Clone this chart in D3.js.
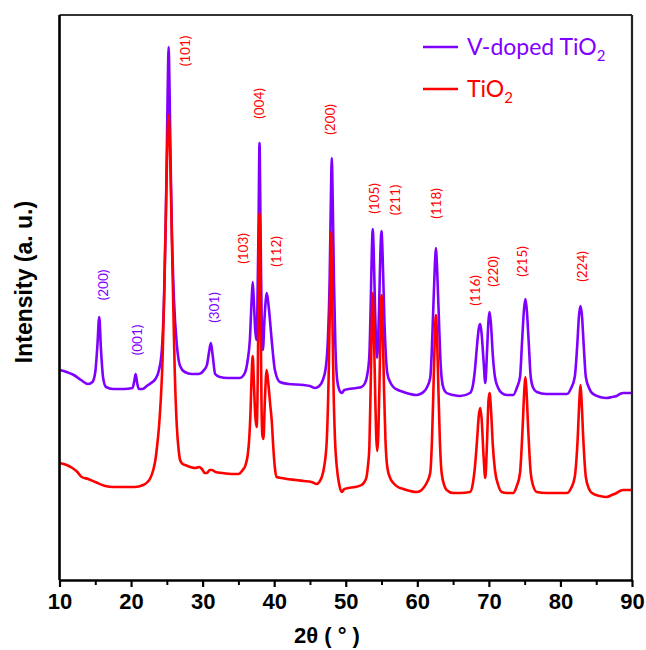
<!DOCTYPE html>
<html>
<head>
<meta charset="utf-8">
<script src="https://cdn.jsdelivr.net/npm/d3@7"></script>
<style>
  html, body { margin: 0; padding: 0; background: #fff; }
  svg { display: block; }
</style>
</head>
<body>
<svg id="chart" width="646" height="650"></svg>
<script>
// ---------- DATA ----------
const xTicks = [10, 20, 30, 40, 50, 60, 70, 80, 90];
const xMinorTicks = [15, 25, 35, 45, 55, 65, 75, 85];

const seriesNames = ["V-doped TiO", "TiO"];

const vdopedTheta = [10.0,11.0,12.0,13.0,14.0,14.6,15.0,15.3,15.55,15.8,16.1,16.5,17.5,19.0,20.2,20.45,20.65,20.85,21.1,21.6,22.2,22.8,23.4,23.9,24.3,24.6,24.85,25.0,25.12,25.25,25.38,25.5,25.7,26.0,26.4,26.85,27.5,28.5,29.4,30.2,30.6,30.9,31.15,31.4,31.75,32.4,33.5,35.2,35.9,36.3,36.6,36.85,37.0,37.15,37.35,37.5,37.65,37.82,37.95,38.08,38.25,38.42,38.65,38.97,39.25,39.65,40.1,40.8,42.0,44.1,45.0,45.7,46.3,46.8,47.2,47.5,47.75,47.92,48.05,48.18,48.35,48.55,48.8,49.1,49.45,49.8,50.4,51.5,52.2,52.7,53.0,53.3,53.5,53.65,53.77,53.9,54.1,54.38,54.65,54.85,55.0,55.15,55.4,55.8,56.2,56.65,57.3,58.05,59.0,59.9,60.4,60.85,61.3,61.8,62.0,62.2,62.35,62.5,62.6,62.7,62.85,63.0,63.2,63.4,63.7,64.1,65.0,66.0,67.36,67.75,68.05,68.35,68.6,68.8,69.0,69.25,69.5,69.75,69.95,70.1,70.3,70.55,70.85,71.3,71.8,72.5,73.4,73.9,74.35,74.65,74.9,75.1,75.3,75.55,75.85,76.2,76.7,78.0,80.9,81.5,82.0,82.35,82.6,82.8,83.0,83.25,83.55,84.0,84.4,85.5,86.45,87.2,87.85,88.3,88.8,90.0];
const vdopedIntensity = [210,208,205,200,196,198,208,235,263,230,202,193,191,191,192,199,206,197,191,191,194,197,201,210,230,280,360,430,490,533,490,430,350,280,235,214,208,206,206,210,215,228,237,225,206,203,202,202,207,220,240,280,298,280,250,240,270,360,437,360,260,230,262,287,272,240,210,198,196,195,194,192,194,200,212,240,300,380,422,380,300,235,200,190,187,190,191,192,193,197,205,225,280,330,351,330,270,222,270,330,349,325,260,207,198,193,190,188,186,185,186,188,192,202,225,265,295,322,332,322,295,265,225,202,191,187,185,184,187,194,210,235,252,256,245,220,197,230,260,268,255,225,203,192,187,185,185,192,203,240,270,281,270,240,203,192,188,186,186,192,203,235,265,274,265,235,203,192,187,183,182,183,184,186,187,187];

const tio2Theta = [10.0,11.0,11.8,12.5,13.1,14.0,15.0,16.4,17.5,19.2,20.5,21.7,22.3,22.7,23.1,23.4,23.7,23.9,24.15,24.4,24.65,24.85,25.05,25.25,25.45,25.65,25.85,26.1,26.4,26.65,26.85,27.2,27.55,28.3,29.0,29.5,29.9,30.3,30.6,31.0,31.3,31.8,32.7,34.0,35.0,35.6,36.0,36.3,36.5,36.7,36.85,37.0,37.15,37.35,37.55,37.7,37.82,37.95,38.08,38.22,38.35,38.5,38.7,38.95,39.2,39.45,39.65,39.9,40.1,40.35,41.0,41.75,43.0,44.1,45.2,45.95,46.3,46.65,47.0,47.35,47.6,47.8,47.95,48.1,48.3,48.5,48.75,49.1,49.45,49.8,50.4,51.3,52.2,52.6,52.9,53.1,53.3,53.5,53.65,53.77,53.9,54.1,54.25,54.4,54.55,54.75,54.9,55.0,55.12,55.35,55.55,55.8,56.2,56.65,57.3,58.05,59.0,59.9,60.4,60.85,61.3,61.8,62.05,62.25,62.45,62.6,62.75,62.95,63.15,63.4,63.8,64.1,65.0,65.96,67.36,67.75,68.05,68.35,68.6,68.8,69.0,69.25,69.5,69.75,69.95,70.1,70.3,70.55,70.85,71.3,71.8,72.5,73.4,73.9,74.35,74.7,74.95,75.1,75.25,75.5,75.85,76.2,76.7,78.0,80.9,81.5,82.0,82.4,82.65,82.8,82.95,83.2,83.55,84.0,84.4,85.5,86.45,87.2,87.85,88.3,88.8,90.0];
const tio2Intensity = [117,115,112,108,103,101,98,94,93,93,93,95,98,102,110,120,138,153,180,220,290,360,430,465,430,360,290,210,153,130,120,116,115,113,112,113,111,107,107,110,110,108,107,106,106,110,115,125,140,170,205,224,200,165,153,200,290,367,290,180,145,141,180,210,195,175,160,130,112,103,102,101,100,99,98,96,98,103,114,140,200,280,348,280,190,140,113,95,88,91,92,93,95,98,103,114,133,200,260,287,260,190,145,129,145,210,265,285,265,190,140,113,102,97,93,91,89,88,89,92,97,107,140,190,245,265,245,190,140,107,94,90,87,87,88,96,113,140,165,172,160,125,102,140,180,187,170,135,110,95,88,87,87,94,107,150,190,203,190,150,107,94,88,87,87,92,103,140,180,195,180,140,103,91,87,84,83,85,87,89,90,90];

// Miller-index annotations: text, 2θ position, intensity level, series it is coloured by
const labelText   = ["(200)","(001)","(301)","(101)","(103)","(004)","(112)","(200)","(105)","(211)","(118)","(116)","(220)","(215)","(224)"];
const labelTheta  = [16.03, 20.85, 31.6, 27.56, 35.59, 37.89, 40.27, 47.8, 53.88, 56.82, 62.68, 68.06, 70.64, 74.69, 83.07];
const labelLevel  = [295, 240, 272.5, 529, 331.5, 476.5, 328.5, 460.5, 381.5, 380, 376.5, 289.5, 308.5, 318.5, 313.5];
const labelSeries = [0, 0, 0, 1, 1, 1, 1, 1, 1, 1, 1, 1, 1, 1, 1];

// ---------- LAYOUT / STYLE ----------
const colors = ["#7f00ff", "#ff0000"];
const plot = { left: 59.5, right: 632, top: 15, bottom: 580 };

const svg = d3.select("#chart");
const x = d3.scaleLinear().domain([10, 90]).range([plot.left, plot.right]);
const y = d3.scaleLinear().domain([0, 565]).range([plot.bottom, plot.top]);

// Curves
const line = d3.line()
  .x(d => x(d[0]))
  .y(d => y(d[1]))
  .curve(d3.curveMonotoneX);

const vData = vdopedTheta.map((t, i) => [t, vdopedIntensity[i]]);
const rData = tio2Theta.map((t, i) => [t, tio2Intensity[i]]);

svg.append("clipPath").attr("id", "clip")
  .append("rect").attr("x", plot.left).attr("y", plot.top)
  .attr("width", plot.right - plot.left).attr("height", plot.bottom - plot.top);

const g = svg.append("g").attr("clip-path", "url(#clip)");
[vData, rData].forEach((data, i) => {
  g.append("path")
    .datum(data)
    .attr("d", line)
    .attr("fill", "none")
    .attr("stroke", colors[i])
    .attr("stroke-width", 2.6)
    .attr("stroke-linejoin", "round");
});

// Frame (top and right)
svg.append("line").attr("x1", plot.left).attr("x2", plot.right)
  .attr("y1", plot.top).attr("y2", plot.top)
  .attr("stroke", "#333").attr("stroke-width", 2);
svg.append("line").attr("x1", plot.right).attr("x2", plot.right)
  .attr("y1", plot.top).attr("y2", plot.bottom)
  .attr("stroke", "#222").attr("stroke-width", 2.2);
// Left axis line (no ticks)
svg.append("line").attr("x1", plot.left).attr("x2", plot.left)
  .attr("y1", plot.top).attr("y2", plot.bottom)
  .attr("stroke", "#000").attr("stroke-width", 2.6);

// Bottom axis
const xAxis = d3.axisBottom(x).tickValues(xTicks).tickSize(7).tickSizeOuter(0).tickPadding(6);
const xa = svg.append("g").attr("transform", `translate(0,${plot.bottom})`).call(xAxis);
xa.select(".domain").attr("stroke", "#000").attr("stroke-width", 2.6);
xa.selectAll(".tick line").attr("stroke", "#000").attr("stroke-width", 2.2);
xa.selectAll(".tick text")
  .attr("font-family", "'Liberation Sans', Arial, sans-serif")
  .attr("font-weight", "bold").attr("font-size", 22).attr("fill", "#000");
const xMinor = d3.axisBottom(x).tickValues(xMinorTicks).tickSize(5).tickFormat("");
const xm = svg.append("g").attr("transform", `translate(0,${plot.bottom})`).call(xMinor);
xm.select(".domain").remove();
xm.selectAll(".tick line").attr("stroke", "#000").attr("stroke-width", 2);

// Axis titles
svg.append("text")
  .attr("x", 327).attr("y", 643)
  .attr("text-anchor", "middle")
  .attr("font-family", "'Liberation Sans', Arial, sans-serif")
  .attr("font-weight", "bold").attr("font-size", 22)
  .text("2θ ( ° )");

svg.append("text")
  .attr("transform", "translate(32,282) rotate(-90)")
  .attr("text-anchor", "middle")
  .attr("font-family", "'Liberation Sans', Arial, sans-serif")
  .attr("font-weight", "bold").attr("font-size", 23)
  .text("Intensity (a. u.)");

// Peak labels
svg.append("g").selectAll("text")
  .data(labelText)
  .join("text")
  .attr("transform", (d, i) => `translate(${x(labelTheta[i])},${y(labelLevel[i])}) rotate(-90)`)
  .attr("text-anchor", "middle")
  .attr("dominant-baseline", "central")
  .attr("font-family", "Lato, 'Open Sans', sans-serif")
  .attr("font-size", 13.5)
  .attr("fill", (d, i) => colors[labelSeries[i]])
  .text(d => d);

// Legend
const legend = svg.append("g");
seriesNames.forEach((name, i) => {
  const ly = 47 + i * 42;
  legend.append("line")
    .attr("x1", 423).attr("x2", 458).attr("y1", ly).attr("y2", ly)
    .attr("stroke", colors[i]).attr("stroke-width", 2.6);
  const t = legend.append("text")
    .attr("x", 467).attr("y", ly + 8)
    .attr("font-family", "Lato, 'Open Sans', sans-serif")
    .attr("font-size", 23)
    .attr("fill", colors[i]);
  t.append("tspan").text(name);
  t.append("tspan").attr("font-size", 15).attr("dy", 6).text("2");
});
</script>
</body>
</html>
